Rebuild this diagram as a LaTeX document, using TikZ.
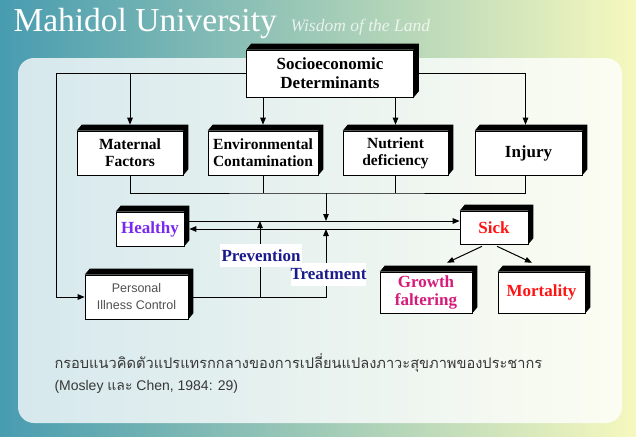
\documentclass[tikz,border=0pt]{standalone}
\usepackage{fontspec}
\setmainfont{Liberation Serif}
\setsansfont{Liberation Sans}
\newfontfamily\thaifont[Script=Thai]{Loma}
\usepackage{xcolor}
\usepackage{tikz}
\usetikzlibrary{arrows.meta, positioning}

\definecolor{bgteal}{RGB}{72,156,176}
\definecolor{bgmid}{RGB}{160,205,200}
\definecolor{bgyellow}{RGB}{246,248,190}
\definecolor{panelleft}{RGB}{214,232,237}
\definecolor{panelright}{RGB}{252,253,242}
\definecolor{healthypurple}{RGB}{120,40,240}
\definecolor{labelnavy}{RGB}{26,26,140}
\definecolor{sickred}{RGB}{255,20,20}
\definecolor{growthpink}{RGB}{214,28,122}
\definecolor{captiongray}{RGB}{55,55,55}
\definecolor{boxgray}{RGB}{80,80,80}

\tikzset{
  blockbox/.style={draw=black, line width=0.6pt, fill=white, align=center, inner sep=0pt,
    append after command={\pgfextra{\let\thisbox\tikzlastnode
      \fill[black] (\thisbox.north west) -- ++(5,-6) -- ([shift={(5,-6)}]\thisbox.north east)
        -- ([shift={(5,-6)}]\thisbox.south east) -- (\thisbox.south east)
        -- (\thisbox.north east) -- cycle;}}},
  boldtext/.style 2 args={font=\bfseries\fontsize{#1}{#2}\selectfont},
  flowlabel/.style={fill=white, inner sep=0pt, text=labelnavy, font=\bfseries\fontsize{17}{19}\selectfont}
}

\begin{document}
\begin{tikzpicture}[x=1pt, y=-1pt, line width=1pt, >={Triangle[length=7pt,width=5.5pt]}]
        \useasboundingbox (0,0) rectangle (636,436);
        \shade[left color=bgteal, middle color=bgmid, right color=bgyellow] (0,0) rectangle (636,436);
        \shade[rounded corners=16pt, left color=panelleft, right color=panelright] (18,58) rectangle (622,423);

        \node (title) [anchor=base west, inner sep=0pt, text=white, font=\fontsize{33.5}{35}\selectfont] at (13,32) {Mahidol University};
        \node (motto) [anchor=base west, inner sep=0pt, text=white, opacity=0.75, font=\itshape\fontsize{17.5}{19}\selectfont] at (290,32) {Wisdom of the Land};

        \node (socio) [blockbox, boldtext={17}{19}, minimum width=167, minimum height=47] at (330,73.5) {Socioeconomic\\Determinants};
        \node (maternal) [blockbox, boldtext={15.5}{17}, minimum width=106, minimum height=44] at (130,153) {Maternal\\Factors};
        \node (env) [blockbox, boldtext={15.5}{17}, minimum width=110, minimum height=44] at (263,153) {Environmental\\Contamination};
        \node (nutrient) [blockbox, boldtext={15.5}{17}, minimum width=105, minimum height=44] at (395.5,153) {Nutrient\\deficiency};
        \node (injury) [blockbox, boldtext={17}{19}, minimum width=107, minimum height=44] at (528.5,153) {Injury};

        \node (healthy) [blockbox, boldtext={17}{19}, text=healthypurple, minimum width=68, minimum height=34] at (150,229) {Healthy};
        \node (sick) [blockbox, boldtext={17}{19}, text=sickred, minimum width=68, minimum height=33] at (494,227.5) {Sick};
        \node (pcontrol) [blockbox, font=\sffamily\fontsize{12.5}{17}\selectfont, text=boxgray, minimum width=103, minimum height=44] at (136.5,297) {Personal\\Illness Control};
        \node (growth) [blockbox, boldtext={17}{18}, text=growthpink, minimum width=92, minimum height=41] at (426,292.5) {Growth\\faltering};
        \node (mortality) [blockbox, boldtext={17}{19}, text=sickred, minimum width=87, minimum height=41] at (541.5,292.5) {Mortality};

        \coordinate (loop) at (56,73);
        \coordinate (bus) at (326,193);
        \coordinate (upper) at (326,221);
        \coordinate (lower) at (326,229);
        \coordinate (prevpt) at (260,221);
        \coordinate (hedge) at ([xshift=5pt]healthy.east);
        \coordinate (pedge) at ([xshift=5pt]pcontrol.east);

        % Lines
        \draw [->] (socio.west) -- (socio.west -| loop) |- (pcontrol.west);
        \draw [->] (socio.west) -| ([yshift=6pt]maternal.north);
        \draw [->] (socio.south -| env) -- ([yshift=6pt]env.north);
        \draw [->] (socio.south -| nutrient) -- ([yshift=6pt]nutrient.north);
        \draw [->] (socio.east) -| ([xshift=-3pt,yshift=6pt]injury.north);

        \draw (maternal.south) |- (bus) -| ([xshift=-3pt]injury.south);
        \draw (env.south) -- (env.south |- bus);
        \draw (nutrient.south) -- (nutrient.south |- bus);
        \draw [->] (bus) -- (upper);

        \draw [->] (hedge |- upper) -- (sick.west |- upper);
        \draw [->] (sick.west |- lower) -- (hedge |- lower);
        \draw [->] (pedge) -| (lower);
        \draw [->] (pedge -| prevpt) -- (prevpt);

        \draw [->] ([xshift=-12pt,yshift=-2pt]sick.south) -- ([shift={(21,-9)}]growth.north);
        \draw [->] ([xshift=3pt,yshift=-2pt]sick.south) -- ([shift={(-9.5,-9)}]mortality.north);

        \node (prevention) [flowlabel, minimum width=82, minimum height=23] at (261,255.5) {Prevention};
        \node (treatment) [flowlabel, minimum width=73, minimum height=23] at (328.5,274.5) {Treatment};

        \node (caption) [anchor=base west, inner sep=0pt, text=captiongray, font=\thaifont\fontsize{14.6}{16}\selectfont] at (54,368) {กรอบแนวคิดตัวแปรแทรกกลางของการเปลี่ยนแปลงภาวะสุขภาพของประชากร};
        \node (source) [anchor=base west, inner sep=0pt, text=captiongray, font=\sffamily\fontsize{14}{16}\selectfont] at (54,390) {(Mosley {\thaifont และ} Chen, 1984: 29)};
\end{tikzpicture}
\end{document}
